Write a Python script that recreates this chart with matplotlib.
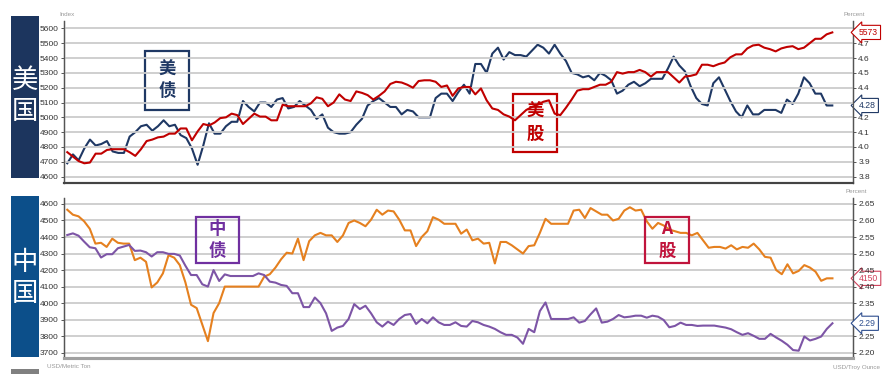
import matplotlib.pyplot as plt
import numpy as np
from matplotlib.patches import Rectangle

plt.rcParams['font.family'] = ['Liberation Sans Narrow', 'Liberation Sans', 'DejaVu Sans']
CJK = ['Noto Sans CJK SC', 'DejaVu Sans']

# US panel: S&P 500 (Index, left) and 10y Treasury yield (Percent, right)
us_stock = [4765, 4735, 4705, 4690, 4695, 4755, 4755, 4780, 4785, 4785,
            4785, 4765, 4740, 4785, 4840, 4850, 4865, 4870, 4890, 4890,
            4925, 4925, 4845, 4905, 4955, 4945, 4965, 4995, 5000, 5025,
            5015, 4955, 4990, 5025, 5005, 5005, 4980, 4980, 5085, 5075,
            5075, 5075, 5075, 5095, 5135, 5125,
            5075, 5100, 5155, 5120, 5110, 5175, 5165, 5150, 5120, 5145,
            5175, 5225, 5240, 5235, 5220, 5200, 5245, 5250, 5250, 5240,
            5205, 5215, 5145, 5195, 5205, 5205, 5155, 5195, 5115, 5060,
            5050, 5020, 5005, 4980, 5015, 5050, 5070, 5085, 5105, 5115,
            5025, 5015, 5065, 5120, 5180, 5190,
            5190, 5205, 5220, 5220, 5240, 5305, 5295, 5305, 5305, 5320,
            5305, 5275, 5305, 5305, 5305, 5270, 5235, 5275, 5280, 5290,
            5355, 5355, 5345, 5360, 5370, 5405, 5425, 5425, 5465, 5485,
            5490, 5470, 5460, 5445, 5465, 5475, 5480, 5460, 5470, 5500,
            5530, 5530, 5560, 5573]
us_bond = [3.89, 3.95, 3.91, 3.99, 4.05, 4.01, 4.02, 4.04, 3.97, 3.96,
           3.96, 4.07, 4.10, 4.14, 4.15, 4.11, 4.14, 4.18, 4.14, 4.15,
           4.08, 4.06, 3.99, 3.88, 4.01, 4.16, 4.09, 4.09, 4.14, 4.17,
           4.17, 4.31, 4.27, 4.24, 4.30, 4.30, 4.27, 4.32, 4.33, 4.26,
           4.27, 4.31, 4.28, 4.25, 4.19, 4.22,
           4.13, 4.10, 4.09, 4.09, 4.10, 4.15, 4.19, 4.28, 4.31, 4.33,
           4.30, 4.27, 4.27, 4.22, 4.25, 4.24, 4.20, 4.20, 4.20, 4.33,
           4.36, 4.36, 4.31, 4.37, 4.42, 4.36, 4.56, 4.56, 4.50, 4.63,
           4.67, 4.59, 4.64, 4.62, 4.62, 4.61, 4.65, 4.69, 4.67, 4.63,
           4.69, 4.63, 4.58, 4.50, 4.49, 4.47,
           4.48, 4.45, 4.50, 4.48, 4.45, 4.36, 4.38, 4.42, 4.44, 4.41,
           4.43, 4.46, 4.46, 4.46, 4.53, 4.61, 4.55, 4.51, 4.41, 4.33,
           4.29, 4.28, 4.43, 4.47, 4.39, 4.31, 4.24, 4.20, 4.28, 4.22,
           4.22, 4.25, 4.25, 4.25, 4.23, 4.32, 4.29, 4.36, 4.47, 4.43,
           4.36, 4.36, 4.28, 4.28]

# China panel: A-share index (left) and 10y CGB yield (Percent, right)
cn_stock = [4565, 4535, 4525, 4495, 4450, 4360, 4365, 4340, 4390, 4365,
            4360, 4360, 4260, 4275, 4250, 4095, 4125, 4180, 4290, 4275,
            4230, 4125, 3990, 3970, 3870, 3770, 3940, 4000, 4100, 4100,
            4100, 4100, 4100, 4100, 4100, 4160, 4175, 4215, 4265, 4305,
            4300, 4390, 4260, 4375, 4410, 4425,
            4410, 4410, 4370, 4410, 4485, 4500, 4485, 4465, 4505, 4565,
            4535, 4560, 4555, 4505, 4440, 4440, 4345, 4400, 4435, 4520,
            4505, 4480, 4480, 4480, 4420, 4445, 4380, 4390, 4360, 4365,
            4240, 4370, 4370, 4350, 4325, 4300, 4345, 4350, 4425, 4510,
            4480, 4480, 4480, 4480, 4560, 4565,
            4515, 4575, 4555, 4535, 4535, 4500, 4510, 4560, 4580, 4560,
            4565, 4495, 4450, 4485, 4470, 4445, 4435, 4425, 4425, 4410,
            4425, 4380, 4335, 4340, 4340, 4330, 4350, 4325, 4340, 4335,
            4360, 4325, 4280, 4275, 4200, 4175, 4235, 4180, 4195, 4230,
            4215, 4190, 4135, 4150, 4150]
cn_bond = [2.556, 2.561, 2.554, 2.536, 2.519, 2.516, 2.488, 2.498, 2.498, 2.516,
           2.521, 2.526, 2.508, 2.509, 2.504, 2.491, 2.504, 2.504, 2.499, 2.499,
           2.494, 2.463, 2.435, 2.435, 2.407, 2.400, 2.450, 2.417, 2.437, 2.432,
           2.432, 2.432, 2.432, 2.432, 2.440, 2.435, 2.415, 2.412, 2.405, 2.402,
           2.380, 2.380, 2.338, 2.338, 2.367, 2.350,
           2.319, 2.266, 2.276, 2.281, 2.302, 2.347, 2.332, 2.342, 2.319, 2.292,
           2.279, 2.294, 2.284, 2.302, 2.314, 2.317, 2.287, 2.302, 2.289, 2.307,
           2.292, 2.284, 2.284, 2.292, 2.281, 2.279, 2.296, 2.292, 2.284, 2.279,
           2.272, 2.262, 2.254, 2.254, 2.246, 2.227, 2.272, 2.262, 2.326, 2.352,
           2.302, 2.302, 2.302, 2.302, 2.307, 2.291,
           2.296, 2.316, 2.334, 2.291, 2.294, 2.302, 2.314, 2.307, 2.309, 2.312,
           2.312, 2.306, 2.312, 2.309, 2.299, 2.277, 2.281, 2.291, 2.284, 2.284,
           2.281, 2.282, 2.282, 2.282, 2.279, 2.276, 2.271, 2.262, 2.254, 2.259,
           2.251, 2.242, 2.242, 2.257, 2.246, 2.236, 2.224, 2.208, 2.206, 2.249,
           2.237, 2.242, 2.249, 2.272, 2.289]

us_left_ticks = list(range(4600, 5601, 100))
us_right_ticks = [3.8, 3.9, 4.0, 4.1, 4.2, 4.3, 4.4, 4.5, 4.6, 4.7, 4.8]
cn_left_ticks = list(range(3700, 4601, 100))
cn_right_ticks = [2.20, 2.25, 2.30, 2.35, 2.40, 2.45, 2.50, 2.55, 2.60, 2.65]
# right tick labels hidden behind the last-value tags in the original
us_right_hidden = [4.3, 4.8]
cn_right_hidden = [2.30]

NAVY = '#1f3864'
RED = '#c00000'
ORANGE = '#e5801f'
PURPLE = '#7d55a6'

W, H = 882, 374
fig = plt.figure(figsize=(W / 100, H / 100), dpi=100)


def fx(x):
    return x / W


def fy(y):
    return 1 - y / H


def setup(ax, axr, ticks_l, ticks_r, fmt_r, hidden, bottom_color, bottom_lw):
    ax.set_yticks(ticks_l)
    axr.set_yticks(ticks_r)
    axr.set_yticklabels(['' if t in hidden else fmt_r.format(t) for t in ticks_r])
    ax.set_xticks([])
    ax.grid(axis='y', color='#cccccc', lw=1.3)
    ax.set_axisbelow(True)
    for a in (ax, axr):
        a.spines['top'].set_visible(False)
        a.spines['left'].set_color('#555555')
        a.spines['right'].set_color('#555555')
        a.spines['left'].set_linewidth(0.9)
        a.spines['right'].set_linewidth(0.9)
        a.spines['bottom'].set_color(bottom_color)
        a.spines['bottom'].set_linewidth(bottom_lw)
        a.tick_params(axis='y', length=2.5, width=0.7, color='#555555',
                      labelsize=6, labelcolor='#333333', pad=1.5)


# ---- top: US ----
ax1 = fig.add_axes([fx(64), fy(183), fx(852.7) - fx(64), fy(21) - fy(183)])
ax1r = ax1.twinx()
ax1.set_ylim(4557, 5650)
ax1r.set_ylim(3.757, 4.850)
ax1.set_xlim(-0.58, 138.6)
setup(ax1, ax1r, us_left_ticks, us_right_ticks, '{:.1f}', us_right_hidden, '#444444', 1.5)
ax1r.plot(np.arange(len(us_bond)), us_bond, color=NAVY, lw=1.5)
ax1.plot(np.arange(len(us_stock)), us_stock, color=RED, lw=1.5, zorder=3)
ax1.set_zorder(ax1r.get_zorder() + 1)
ax1.patch.set_visible(False)

# ---- bottom: China ----
ax2 = fig.add_axes([fx(64), fy(358), fx(852.7) - fx(64), fy(198) - fy(358)])
ax2r = ax2.twinx()
ax2.set_ylim(3668, 4636)
ax2r.set_ylim(2.184, 2.668)
ax2.set_xlim(-0.58, 139.6)
setup(ax2, ax2r, cn_left_ticks, cn_right_ticks, '{:.2f}', cn_right_hidden, '#a0a0a0', 2.2)
ax2.plot(np.arange(len(cn_stock)), cn_stock, color=ORANGE, lw=1.5)
ax2r.plot(np.arange(len(cn_bond)), cn_bond, color=PURPLE, lw=1.5)


# value tags at the right edge
def tag(ax, value, text, color):
    ax.annotate(text, xy=(1.0, value), xycoords=('axes fraction', 'data'),
                xytext=(4.5, 0), textcoords='offset points', ha='left', va='center',
                fontsize=6.2, color=color, annotation_clip=False, zorder=10,
                bbox=dict(boxstyle='larrow,pad=0.3', fc='white', ec=color, lw=0.8))


tag(ax1, us_stock[-1], f'{us_stock[-1]:.0f}', RED)
tag(ax1r, us_bond[-1], f'{us_bond[-1]:.2f}', NAVY)
tag(ax2, cn_stock[-1], f'{cn_stock[-1]:.0f}', '#d0405a')
tag(ax2r, cn_bond[-1], f'{cn_bond[-1]:.2f}', '#2f4f8f')

# unit labels
unit = dict(fontsize=4.5, color='#999999')
fig.text(fx(59), fy(15), 'Index', ha='left', va='center', **unit)
fig.text(fx(843), fy(15), 'Percent', ha='left', va='center', **unit)
fig.text(fx(845), fy(191), 'Percent', ha='left', va='center', **unit)
fig.text(fx(47), fy(367), 'USD/Metric Ton', ha='left', va='center', **unit)
fig.text(fx(833), fy(367), 'USD/Troy Ounce', ha='left', va='center', **unit)

# country side bars
fig.add_artist(Rectangle((fx(11), fy(178)), fx(28), fy(16) - fy(178),
                         transform=fig.transFigure, fc='#1c355e', ec='none'))
fig.text(fx(25), fy(96), '美\n国', ha='center', va='center', color='white',
         fontsize=19, family=CJK, linespacing=1.15)
fig.add_artist(Rectangle((fx(11), fy(357)), fx(28), fy(196) - fy(357),
                         transform=fig.transFigure, fc='#0c4f8a', ec='none'))
fig.text(fx(25), fy(278), '中\n国', ha='center', va='center', color='white',
         fontsize=19, family=CJK, linespacing=1.15)
fig.add_artist(Rectangle((fx(11), fy(374)), fx(28), fy(369) - fy(374),
                         transform=fig.transFigure, fc='#808080', ec='none'))


# labelled boxes
def label_box(x0, y0, x1, y1, text, color):
    fig.add_artist(Rectangle((fx(x0), fy(y1)), fx(x1 - x0), fy(y0) - fy(y1),
                             transform=fig.transFigure, fill=False, ec=color, lw=1.6))
    fig.text(fx((x0 + x1) / 2), fy((y0 + y1) / 2), text, ha='center', va='center',
             color=color, fontsize=12.5, fontweight='bold', family=CJK, linespacing=1.25)


label_box(145, 51, 189, 110, '美\n债', NAVY)
label_box(513, 94, 557, 152, '美\n股', RED)
label_box(196, 217, 239, 263, '中\n债', '#7030a0')
label_box(645, 217, 689, 263, 'A\n股', '#c0143c')

fig.savefig('out.png', dpi=100)
